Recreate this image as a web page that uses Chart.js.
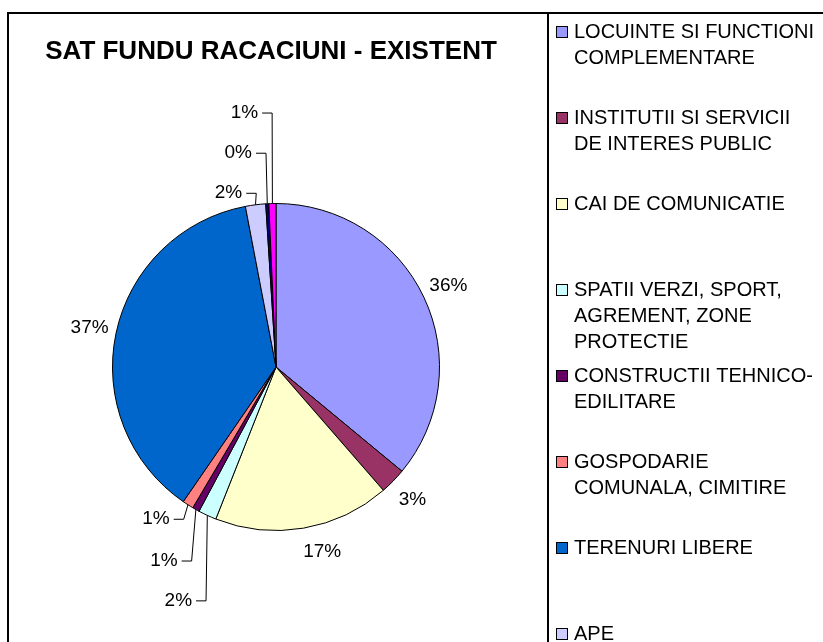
<!DOCTYPE html>
<html>
<head>
<meta charset="utf-8">
<script src="https://cdn.jsdelivr.net/npm/chart.js@4.4.1/dist/chart.umd.min.js"></script>
<style>
  html, body { margin: 0; padding: 0; background: #ffffff; }
  canvas { display: block; }
</style>
</head>
<body>
<canvas id="myChart" width="823" height="642"></canvas>
<script>
const chartTitle = 'SAT FUNDU RACACIUNI - EXISTENT';
const categories = [
    ['LOCUINTE SI FUNCTIONI', 'COMPLEMENTARE'],
    ['INSTITUTII SI SERVICII', 'DE INTERES PUBLIC'],
    ['CAI DE COMUNICATIE'],
    ['SPATII VERZI, SPORT,', 'AGREMENT, ZONE', 'PROTECTIE'],
    ['CONSTRUCTII TEHNICO-', 'EDILITARE'],
    ['GOSPODARIE', 'COMUNALA, CIMITIRE'],
    ['TERENURI LIBERE'],
    ['APE'],
    [''],
    ['']
];
const shares = [36.0, 2.6, 17.4, 1.8, 0.7, 1.1, 37.4, 2.0, 0.3, 0.7];
const sliceColors = ['#9999FF', '#993366', '#FFFFCC', '#CCFFFF', '#660066',
                     '#FF8080', '#0066CC', '#CCCCFF', '#000080', '#FF00FF'];

const FONT = '"Liberation Sans", Arial, sans-serif';

// label tweaks: [dx, dy] from the default spot, leader = true draws a callout
const labelTweaks = {
    2: {dx: 14, dy: -3},
    3: {dx: -29, dy: 85, leader: true},
    4: {dx: -32, dy: 51, leader: true},
    5: {dx: -32, dy: 14, leader: true},
    7: {dx: -27, dy: -12, leader: true},
    8: {dx: -29, dy: -51, leader: true},
    9: {dx: -28, dy: -91, leader: true}
};

const framePlugin = {
    id: 'frame',
    beforeDraw: (chart) => {
        const {ctx} = chart;
        ctx.save();
        ctx.fillStyle = '#ffffff';
        ctx.fillRect(0, 0, chart.width, chart.height);
        ctx.strokeStyle = '#000000';
        ctx.lineWidth = 2;
        ctx.strokeRect(8, 13, chart.width + 20, chart.height + 20);
        ctx.beginPath();
        ctx.moveTo(548, 13);
        ctx.lineTo(548, chart.height + 5);
        ctx.stroke();
        ctx.fillStyle = '#000000';
        ctx.font = 'bold 26px ' + FONT;
        ctx.textAlign = 'center';
        ctx.textBaseline = 'middle';
        ctx.fillText(chartTitle, 271, 52);
        ctx.restore();
    },
    afterDraw: (chart) => {
        const {ctx} = chart;
        const meta = chart.getDatasetMeta(0);
        const values = chart.data.datasets[0].data;
        const total = values.reduce((a, b) => a + b, 0);
        ctx.save();
        ctx.font = '19px ' + FONT;
        ctx.fillStyle = '#000000';
        ctx.strokeStyle = '#000000';
        ctx.lineWidth = 1;
        ctx.textBaseline = 'middle';
        ctx.textAlign = 'center';
        meta.data.forEach((arc, i) => {
            const mid = (arc.startAngle + arc.endAngle) / 2;
            const r = arc.outerRadius;
            const ex = arc.x + Math.cos(mid) * r;
            const ey = arc.y + Math.sin(mid) * r;
            const text = Math.round(values[i] / total * 100) + '%';
            const tw = ctx.measureText(text).width;
            const tweak = labelTweaks[i];
            let lx, ly;
            if (tweak && tweak.leader) {
                lx = ex + tweak.dx;
                ly = ey + tweak.dy;
                const sx = lx + tw / 2 + 4;
                ctx.beginPath();
                ctx.moveTo(sx, ly + 0.5);
                ctx.lineTo(sx + 10, ly + 0.5);
                ctx.lineTo(ex, ey);
                ctx.stroke();
            } else {
                lx = arc.x + Math.cos(mid) * (r + 27);
                ly = arc.y + Math.sin(mid) * (r + 27);
                if (tweak) { lx += tweak.dx; ly += tweak.dy; }
            }
            ctx.fillText(text, lx, ly);
        });

        // legend on the right
        ctx.textAlign = 'left';
        ctx.font = '20px ' + FONT;
        chart.data.labels.forEach((lines, i) => {
            const y = 32 + i * 86;
            if (y > chart.height + 20) return;
            ctx.fillStyle = sliceColors[i];
            ctx.fillRect(556, y - 5, 11, 11);
            ctx.strokeRect(556.5, y - 5.5, 11, 11);
            ctx.fillStyle = '#000000';
            lines.forEach((line, k) => ctx.fillText(line, 574, y + k * 26));
        });
        ctx.restore();
    }
};

new Chart(document.getElementById('myChart'), {
    type: 'pie',
    data: {
        labels: categories,
        datasets: [{
            data: shares,
            backgroundColor: sliceColors,
            borderColor: '#000000',
            borderWidth: 1
        }]
    },
    options: {
        responsive: false,
        animation: false,
        devicePixelRatio: 1,
        layout: {
            padding: {left: 112, right: 383, top: 203, bottom: 111}
        },
        plugins: {
            legend: {display: false},
            title: {display: false},
            tooltip: {enabled: false}
        }
    },
    plugins: [framePlugin]
});
</script>
</body>
</html>
